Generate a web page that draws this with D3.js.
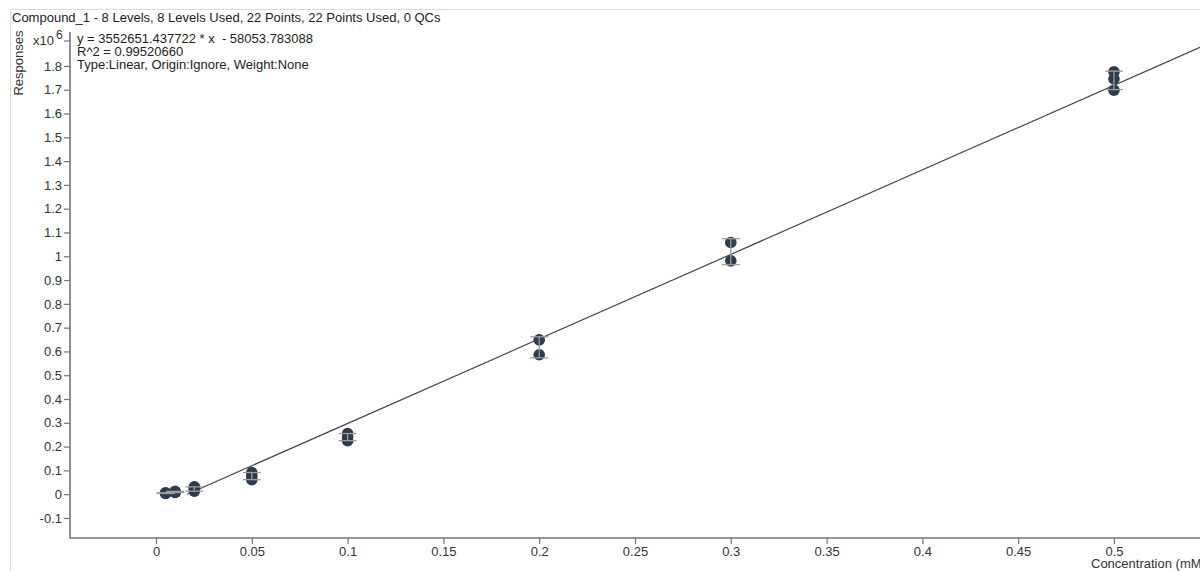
<!DOCTYPE html>
<html>
<head>
<meta charset="utf-8">
<script src="https://cdn.jsdelivr.net/npm/d3@7"></script>
<style>
  html, body { margin: 0; padding: 0; background: #fff; }
  svg { display: block; font-family: "Liberation Sans", Arial, sans-serif; }
  .tick text { fill: #333; font-size: 13px; }
</style>
</head>
<body>
<svg id="chart" width="1200" height="571"></svg>
<script>
// Calibration levels (mM) and replicate responses (x10^6) for each level
const levels = [0.005, 0.01, 0.02, 0.05, 0.1, 0.2, 0.3, 0.5];
const responses = [
  [0.006, 0.004, 0.003],
  [0.012, 0.009, 0.007],
  [0.031, 0.021, 0.013],
  [0.091, 0.076, 0.061],
  [0.255, 0.240, 0.225],
  [0.6485, 0.586],
  [1.058, 0.981],
  [1.775, 1.745, 1.698]
];
// Linear fit: y = slope * x + intercept (raw response units)
const slope = 3552651.437722;
const intercept = -58053.783088;
const xTicks = [0, 0.05, 0.1, 0.15, 0.2, 0.25, 0.3, 0.35, 0.4, 0.45, 0.5];
const yTicks = [-0.1, 0, 0.1, 0.2, 0.3, 0.4, 0.5, 0.6, 0.7, 0.8, 0.9, 1, 1.1, 1.2, 1.3, 1.4, 1.5, 1.6, 1.7, 1.8];
const titleText = "Compound_1 - 8 Levels, 8 Levels Used, 22 Points, 22 Points Used, 0 QCs";
const infoLines = [
  "y = 3552651.437722 * x  - 58053.783088",
  "R^2 = 0.99520660",
  "Type:Linear, Origin:Ignore, Weight:None"
];

(function () {
const svg = d3.select("#chart");
const W = 1200, H = 571;
const pl = 70, pr = 1200, pt = 32, pb = 538;

const x = d3.scaleLinear().domain([-0.0449, 0.5449]).range([pl, pr]);
const y = d3.scaleLinear().domain([-0.1842, 1.9426]).range([pb, pt]);

// outer frame
svg.append("path")
  .attr("d", `M10.5,${H} V9.5 H${W}`)
  .attr("fill", "none").attr("stroke", "#dcdcdc").attr("stroke-width", 1);

// title
svg.append("text").attr("x", 12).attr("y", 22)
  .attr("font-size", 13).attr("fill", "#222").text(titleText);

// axes
const axisColor = "#6e7480";
const xAxis = svg.append("g").attr("transform", `translate(0,${pb})`)
  .call(d3.axisBottom(x).tickValues(xTicks).tickSize(6).tickPadding(3)
    .tickFormat(d => String(+d.toFixed(2))));
const yAxis = svg.append("g").attr("transform", `translate(${pl},0)`)
  .call(d3.axisLeft(y).tickValues(yTicks).tickSize(6).tickPadding(2)
    .tickFormat(d => String(+d.toFixed(1))));
[xAxis, yAxis].forEach(g => {
  g.select(".domain").remove();
  g.selectAll(".tick line").attr("stroke", axisColor).attr("stroke-width", 1.2);
  g.selectAll(".tick text").attr("font-family", "Liberation Sans, Arial, sans-serif");
});
svg.append("path")
  .attr("d", `M${pl},${pt} V${pb} H${pr}`)
  .attr("fill", "none").attr("stroke", axisColor).attr("stroke-width", 1.6);
// exponent marker tick
svg.append("line").attr("x1", pl - 6).attr("x2", pl)
  .attr("y1", 41).attr("y2", 41).attr("stroke", axisColor).attr("stroke-width", 1.2);

// axis titles
svg.append("text")
  .attr("transform", "translate(23,63) rotate(-90)")
  .attr("text-anchor", "middle").attr("font-size", 13).attr("fill", "#333")
  .text("Responses");
const expo = svg.append("text").attr("x", 33).attr("y", 45)
  .attr("font-size", 13).attr("fill", "#333");
expo.append("tspan").text("x10");
expo.append("tspan").attr("dx", 2).attr("dy", -6).attr("font-size", 12).text("6");
svg.append("text").attr("x", 1091).attr("y", 568)
  .attr("font-size", 13).attr("fill", "#333").text("Concentration (mM)");

// fit information
svg.append("g").selectAll("text").data(infoLines).join("text")
  .attr("x", 77).attr("y", (d, i) => 43 + i * 13)
  .attr("font-size", 13).attr("fill", "#222")
  .style("white-space", "pre")
  .text(d => d);

// plot clip
svg.append("clipPath").attr("id", "plotClip").append("rect")
  .attr("x", pl).attr("y", pt).attr("width", pr - pl).attr("height", pb - pt);
const plot = svg.append("g").attr("clip-path", "url(#plotClip)");

// regression line from its zero crossing to the end of the axis
const x0 = -intercept / slope;
const x1 = x.domain()[1];
plot.append("line")
  .attr("x1", x(x0)).attr("y1", y((slope * x0 + intercept) / 1e6))
  .attr("x2", x(x1)).attr("y2", y((slope * x1 + intercept) / 1e6))
  .attr("stroke", "#3b4453").attr("stroke-width", 1.2);

// replicate points
const pts = levels.flatMap((c, i) => responses[i].map(v => ({ c, v })));
plot.append("g").selectAll("circle").data(pts).join("circle")
  .attr("cx", d => x(d.c)).attr("cy", d => y(d.v)).attr("r", 5.8)
  .attr("fill", "#2f3b4a");

// error bars: mean ± sample standard deviation per level
const stats = levels.map((c, i) => {
  const m = d3.mean(responses[i]), s = d3.deviation(responses[i]);
  return { c, lo: m - s, hi: m + s };
});
const eb = plot.append("g").attr("stroke", "#9a9da3").attr("stroke-width", 1.3);
eb.selectAll("line.v").data(stats).join("line").attr("class", "v")
  .attr("x1", d => x(d.c)).attr("x2", d => x(d.c))
  .attr("y1", d => y(d.lo)).attr("y2", d => y(d.hi));
eb.selectAll("line.hi").data(stats).join("line").attr("class", "hi")
  .attr("x1", d => x(d.c) - 9).attr("x2", d => x(d.c) + 9)
  .attr("y1", d => y(d.hi)).attr("y2", d => y(d.hi));
eb.selectAll("line.lo").data(stats).join("line").attr("class", "lo")
  .attr("x1", d => x(d.c) - 9).attr("x2", d => x(d.c) + 9)
  .attr("y1", d => y(d.lo)).attr("y2", d => y(d.lo));
})();
</script>
</body>
</html>
